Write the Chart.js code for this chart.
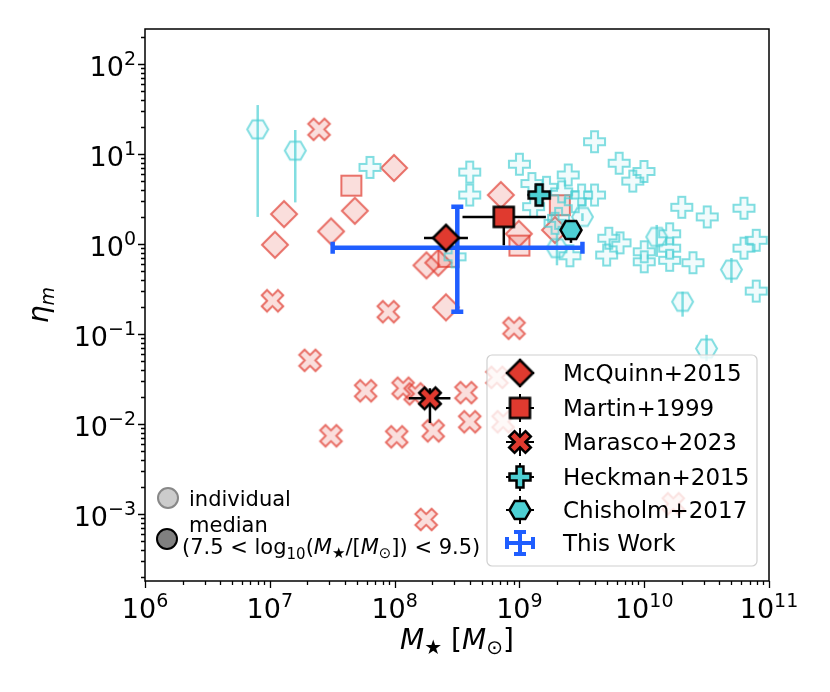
<!DOCTYPE html>
<html>
<head>
<meta charset="utf-8">
<script src="https://cdn.jsdelivr.net/npm/chart.js@4.4.1/dist/chart.umd.min.js"></script>
<style>
  html, body { margin: 0; padding: 0; background: #fff; }
  #wrap { width: 830px; height: 692px; }
</style>
</head>
<body>
<div id="wrap"><canvas id="chart" width="830" height="692"></canvas></div>
<script>
// ---- data (stellar mass in Msun, mass loading eta_m) ----
const mcquinnM   = [9.9e7, 4.8e7, 1.3e7, 3.1e7, 1.1e7, 2.58e8, 1.8e8, 2.24e8, 7.1e8, 9.9e8, 1.93e9];
const mcquinnEta = [7.0, 2.34, 2.15, 1.38, 0.98, 0.198, 0.58, 0.62, 3.5, 1.3, 1.43];

const martinM   = [4.5e7, 1.0e9, 2.11e9, 2.7e8];
const martinEta = [4.45, 0.96, 2.7, 0.72];

const marascoM   = [2.48e7, 1.05e7, 8.9e7, 9.06e8, 2.1e7, 5.86e7, 1.17e8, 1.46e8, 3.73e8,
                    4.0e8, 2.04e8, 1.04e8, 3.09e7, 1.79e8, 6.6e8, 7.4e8, 1.71e10];
const marascoEta = [18.8, 0.234, 0.177, 0.116, 0.051, 0.0234, 0.025, 0.0216, 0.0223,
                    0.0106, 0.0084, 0.0072, 0.0074, 0.00087, 0.033, 0.0106, 0.0013];

const heckmanM   = [6.35e7, 4.0e8, 4.0e8, 1.0e9, 1.26e9, 1.65e9, 2.46e9, 2.18e9, 3.15e9, 4.0e9,
                    2.8e9, 1.3e9, 2.06e9, 1.93e9, 4.0e9, 6.3e9, 9.96e9, 8.1e9, 2.0e10, 3.2e10,
                    6.3e10, 5.2e9, 6.4e9, 5.0e9, 1.0e10, 1.0e10, 1.6e10, 1.6e10, 1.6e10, 2.46e10,
                    6.3e10, 7.9e10, 7.9e10, 2.54e9, 3.05e8];
const heckmanEta = [7.1, 6.3, 3.5, 7.7, 4.7, 4.27, 5.85, 3.8, 3.5, 3.5,
                    2.95, 2.6, 1.93, 1.7, 13.7, 7.9, 6.4, 5.0, 2.56, 2.0,
                    2.5, 1.16, 1.03, 0.755, 0.82, 0.635, 1.3, 0.9, 0.66, 0.62,
                    0.9, 1.1, 0.30, 0.74, 0.72];

const chisholmM     = [8.0e6, 1.6e7, 3.2e9, 2.0e9, 1.26e10, 5.0e10, 2.03e10, 3.16e10];
const chisholmEta   = [18.8, 10.9, 2.0, 0.9, 1.2, 0.52, 0.228, 0.069];
const chisholmEtaLo = [2.0, 2.9, 1.8, 0.58, 0.72, 0.37, 0.156, 0.05];
const chisholmEtaHi = [35, 18.5, 2.2, 1.3, 1.63, 0.7, 0.295, 0.098];

// medians in 7.5 < log M < 9.5, one per study
const medianStudies = ['McQuinn+2015', 'Martin+1999', 'Marasco+2023', 'Heckman+2015', 'Chisholm+2017'];
const medianM      = [2.58e8, 7.5e8, 1.92e8, 1.44e9, 2.59e9];
const medianEta    = [1.17, 2.0, 0.0193, 3.5, 1.43];
const medianMLo    = [1.72e8, 3.5e8, 1.3e8, 1.16e9, null];
const medianMHi    = [3.87e8, 1.63e9, 2.8e8, 1.75e9, null];
const medianEtaLo  = [1.0, 0.97, 0.0103, 3.3, 1.03];
const medianEtaHi  = [1.35, 2.3, 0.025, 3.7, 1.82];

const thisWorkM     = [3.18e8];
const thisWorkEta   = [0.91];
const thisWorkMLo   = [3.19e7];
const thisWorkMHi   = [3.2e9];
const thisWorkEtaLo = [0.177];
const thisWorkEtaHi = [2.6];

const xTickExp = [6, 7, 8, 9, 10, 11];
const yTickExp = [-3, -2, -1, 0, 1, 2];

// ---- colours ----
const RED = 'rgb(224,58,47)';
const TEAL = 'rgb(77,208,212)';
const BLUE = 'rgb(31,94,255)';
const redFace = 'rgba(224,58,47,0.17)';
const redEdge = 'rgba(224,58,47,0.7)';
const tealFace = 'rgba(77,208,212,0.08)';
const tealEdge = 'rgba(77,208,212,0.7)';

// ---- marker images (matplotlib-like D, s, X, P, h) ----
function markerPath(ctx, shape, s) {
    ctx.beginPath();
    if (shape === 'diamond') {
        ctx.moveTo(0, -s); ctx.lineTo(s, 0); ctx.lineTo(0, s); ctx.lineTo(-s, 0);
    } else if (shape === 'square') {
        ctx.rect(-s, -s, 2 * s, 2 * s);
    } else if (shape === 'hex') {
        for (let k = 0; k < 6; k++) {
            const a = k * Math.PI / 3;
            const px = s * Math.cos(a), py = s * Math.sin(a);
            if (k === 0) ctx.moveTo(px, py); else ctx.lineTo(px, py);
        }
    } else {
        // plus (P) or rotated plus (X)
        const w = s * 0.33;
        let pts = [[-w, -s], [w, -s], [w, -w], [s, -w], [s, w], [w, w], [w, s], [-w, s], [-w, w], [-s, w], [-s, -w], [-w, -w]];
        if (shape === 'x') {
            const c = Math.SQRT1_2;
            pts = pts.map(p => [(p[0] - p[1]) * c, (p[0] + p[1]) * c]);
        }
        pts.forEach((p, i) => i === 0 ? ctx.moveTo(p[0], p[1]) : ctx.lineTo(p[0], p[1]));
    }
    ctx.closePath();
}

function makeMarker(shape, s, fill, stroke, lw) {
    const c = document.createElement('canvas');
    const n = Math.ceil(2 * s + lw * 2 + 4);
    c.width = n; c.height = n;
    const ctx = c.getContext('2d');
    ctx.translate(n / 2, n / 2);
    markerPath(ctx, shape, s);
    ctx.fillStyle = fill;
    ctx.fill();
    ctx.lineWidth = lw;
    ctx.strokeStyle = stroke;
    ctx.lineJoin = 'miter';
    ctx.stroke();
    return c;
}

const indDiamond = makeMarker('diamond', 13, redFace, redEdge, 2);
const indSquare  = makeMarker('square', 10, redFace, redEdge, 2);
const indX       = makeMarker('x', 11.5, redFace, redEdge, 2);
const indPlus    = makeMarker('plus', 10.5, tealFace, tealEdge, 2);
const indHex     = makeMarker('hex', 10.5, tealFace, tealEdge, 2);

const medDiamond = makeMarker('diamond', 13, RED, '#000', 2.5);
const medSquare  = makeMarker('square', 10, RED, '#000', 2.5);
const medX       = makeMarker('x', 11.5, RED, '#000', 2.5);
const medPlus    = makeMarker('plus', 10.5, TEAL, '#000', 2.5);
const medHex     = makeMarker('hex', 10.5, TEAL, '#000', 2.5);
const medStyles  = [medDiamond, medSquare, medX, medPlus, medHex];

function pts(xs, ys, extra) {
    return xs.map((x, i) => {
        const p = { x: x, y: ys[i] };
        if (extra) Object.keys(extra).forEach(k => { p[k] = extra[k][i]; });
        return p;
    });
}

// ---- error bars, drawn under each dataset's markers ----
const errorBars = {
    id: 'errorBars',
    beforeDatasetDraw(chart, args) {
        const ds = chart.data.datasets[args.index];
        if (!ds.err) return;
        const xs = chart.scales.x, ys = chart.scales.y, ctx = chart.ctx, a = chart.chartArea;
        ctx.save();
        ctx.beginPath();
        ctx.rect(a.left, a.top, a.right - a.left, a.bottom - a.top);
        ctx.clip();
        ctx.strokeStyle = ds.err.color;
        ctx.lineWidth = ds.err.width;
        ctx.lineCap = 'butt';
        const cap = ds.err.cap;
        ds.data.forEach(p => {
            const px = xs.getPixelForValue(p.x), py = ys.getPixelForValue(p.y);
            ctx.beginPath();
            if (p.xlo != null) {
                const x0 = xs.getPixelForValue(p.xlo), x1 = xs.getPixelForValue(p.xhi);
                ctx.moveTo(x0, py); ctx.lineTo(x1, py);
                if (cap) {
                    ctx.moveTo(x0, py - cap); ctx.lineTo(x0, py + cap);
                    ctx.moveTo(x1, py - cap); ctx.lineTo(x1, py + cap);
                }
            }
            if (p.ylo != null) {
                const y0 = ys.getPixelForValue(p.ylo), y1 = ys.getPixelForValue(p.yhi);
                ctx.moveTo(px, y0); ctx.lineTo(px, y1);
                if (cap) {
                    ctx.moveTo(px - cap, y0); ctx.lineTo(px + cap, y0);
                    ctx.moveTo(px - cap, y1); ctx.lineTo(px + cap, y1);
                }
            }
            ctx.stroke();
        });
        ctx.restore();
    }
};

// ---- text helpers ----
const FONT = '"DejaVu Sans", "Noto Sans", sans-serif';
function runWidth(ctx, segs) {
    let w = 0;
    segs.forEach(s => {
        ctx.font = (s.it ? 'italic ' : '') + s.size + 'px ' + FONT;
        w += ctx.measureText(s.t).width;
    });
    return w;
}
function drawRun(ctx, segs, x, y, align) {
    const w = runWidth(ctx, segs);
    let cx = align === 'center' ? x - w / 2 : align === 'right' ? x - w : x;
    ctx.textAlign = 'left';
    ctx.textBaseline = 'alphabetic';
    segs.forEach(s => {
        ctx.font = (s.it ? 'italic ' : '') + s.size + 'px ' + FONT;
        ctx.fillText(s.t, cx, y + (s.dy || 0));
        cx += ctx.measureText(s.t).width;
    });
}
function pow10(e, size) {
    return [{ t: '10', size: size }, { t: String(e).replace('-', '\u2212'), size: Math.round(size * 0.7), dy: -size * 0.42 }];
}

// ---- frame, ticks, tick labels, axis titles, legends ----
const decor = {
    id: 'decor',
    afterDraw(chart) {
        const ctx = chart.ctx, a = chart.chartArea, xs = chart.scales.x, ys = chart.scales.y;
        ctx.save();
        ctx.fillStyle = '#000';
        ctx.strokeStyle = '#000';

        // ticks
        ctx.lineWidth = 1.3;
        ctx.beginPath();
        for (let e = 6; e <= 10; e++) {
            for (let m = 1; m <= 9; m++) {
                const px = Math.round(xs.getPixelForValue(m * Math.pow(10, e))) + 0.5;
                const len = m === 1 ? 7 : 4;
                ctx.moveTo(px, a.bottom); ctx.lineTo(px, a.bottom + len);
            }
        }
        const pr = Math.round(xs.getPixelForValue(1e11)) + 0.5;
        ctx.moveTo(pr, a.bottom); ctx.lineTo(pr, a.bottom + 7);
        for (let e = -4; e <= 2; e++) {
            for (let m = 1; m <= 9; m++) {
                const v = m * Math.pow(10, e);
                if (v < ys.min || v > ys.max) continue;
                const py = Math.round(ys.getPixelForValue(v)) + 0.5;
                const len = m === 1 ? 7 : 4;
                ctx.moveTo(a.left, py); ctx.lineTo(a.left - len, py);
            }
        }
        ctx.stroke();

        // frame
        ctx.lineWidth = 1.5;
        ctx.strokeRect(a.left, a.top, a.right - a.left, a.bottom - a.top);

        // tick labels
        const TS = 27;
        xTickExp.forEach(e => {
            drawRun(ctx, pow10(e, TS), xs.getPixelForValue(Math.pow(10, e)), a.bottom + 37, 'center');
        });
        yTickExp.forEach(e => {
            drawRun(ctx, pow10(e, TS), a.left - 9, ys.getPixelForValue(Math.pow(10, e)) + 12, 'right');
        });

        // axis titles
        drawRun(ctx, [
            { t: 'M', size: 28, it: true }, { t: '\u2605', size: 20, dy: 5 },
            { t: ' [', size: 28 }, { t: 'M', size: 28, it: true }, { t: '\u2299', size: 20, dy: 5 }, { t: ']', size: 28 }
        ], (a.left + a.right) / 2, 649, 'center');
        ctx.save();
        ctx.translate(48, (a.top + a.bottom) / 2);
        ctx.rotate(-Math.PI / 2);
        drawRun(ctx, [{ t: '\u03b7', size: 28, it: true }, { t: 'm', size: 19, it: true, dy: 6 }], 0, 0, 'center');
        ctx.restore();

        // main legend
        const lx = 487, ly = 355, lw = 270, lh = 211;
        ctx.beginPath();
        ctx.roundRect(lx, ly, lw, lh, 5);
        ctx.fillStyle = 'rgba(255,255,255,0.8)';
        ctx.fill();
        ctx.lineWidth = 1.2;
        ctx.strokeStyle = '#d0d0d0';
        ctx.stroke();
        const rows = [373, 408, 442, 477, 510, 543];
        const mx = 520;
        ctx.fillStyle = '#000';
        medianStudies.forEach((name, i) => {
            const y = rows[i];
            ctx.strokeStyle = '#000';
            ctx.lineWidth = 2;
            ctx.beginPath();
            ctx.moveTo(mx - 14, y); ctx.lineTo(mx + 14, y);
            ctx.moveTo(mx, y - 14); ctx.lineTo(mx, y + 14);
            ctx.stroke();
            const img = medStyles[i];
            ctx.drawImage(img, mx - img.width / 2, y - img.height / 2);
        });
        const ty = rows[5];
        ctx.strokeStyle = BLUE;
        ctx.lineWidth = 4;
        ctx.beginPath();
        ctx.moveTo(mx - 13, ty); ctx.lineTo(mx + 13, ty);
        ctx.moveTo(mx, ty - 11); ctx.lineTo(mx, ty + 11);
        ctx.moveTo(mx - 13, ty - 6); ctx.lineTo(mx - 13, ty + 6);
        ctx.moveTo(mx + 13, ty - 6); ctx.lineTo(mx + 13, ty + 6);
        ctx.moveTo(mx - 6, ty - 11); ctx.lineTo(mx + 6, ty - 11);
        ctx.moveTo(mx - 6, ty + 11); ctx.lineTo(mx + 6, ty + 11);
        ctx.stroke();
        ctx.fillStyle = '#000';
        medianStudies.concat(['This Work']).forEach((name, i) => {
            drawRun(ctx, [{ t: name, size: 23 }], 563, rows[i] + 8, 'left');
        });

        // individual / median key
        ctx.lineWidth = 2;
        ctx.beginPath();
        ctx.arc(168, 498, 10, 0, Math.PI * 2);
        ctx.fillStyle = '#cccccc'; ctx.fill();
        ctx.strokeStyle = '#888888'; ctx.stroke();
        ctx.beginPath();
        ctx.arc(167, 539, 10, 0, Math.PI * 2);
        ctx.fillStyle = '#808080'; ctx.fill();
        ctx.strokeStyle = '#000'; ctx.stroke();
        ctx.fillStyle = '#000';
        const KS = 21;
        drawRun(ctx, [{ t: 'individual', size: KS }], 189, 506, 'left');
        drawRun(ctx, [{ t: 'median', size: KS }], 189, 532, 'left');
        drawRun(ctx, [
            { t: '(7.5 < log', size: KS }, { t: '10', size: 15, dy: 5 }, { t: '(', size: KS },
            { t: 'M', size: KS, it: true }, { t: '\u2605', size: 15, dy: 4 }, { t: '/[', size: KS },
            { t: 'M', size: KS, it: true }, { t: '\u2299', size: 15, dy: 4 }, { t: ']) < 9.5)', size: KS }
        ], 182, 554, 'left');
        ctx.restore();
    }
};

new Chart(document.getElementById('chart'), {
    type: 'scatter',
    data: {
        datasets: [
            {
                label: 'medians',
                data: pts(medianM, medianEta, { xlo: medianMLo, xhi: medianMHi, ylo: medianEtaLo, yhi: medianEtaHi }),
                pointStyle: medStyles,
                err: { color: '#000', width: 2.5, cap: 0 },
                order: 1
            },
            {
                label: 'This Work',
                data: pts(thisWorkM, thisWorkEta, { xlo: thisWorkMLo, xhi: thisWorkMHi, ylo: thisWorkEtaLo, yhi: thisWorkEtaHi }),
                pointRadius: 0,
                err: { color: BLUE, width: 4.5, cap: 6 },
                order: 2
            },
            {
                label: 'Chisholm+2017',
                data: pts(chisholmM, chisholmEta, { ylo: chisholmEtaLo, yhi: chisholmEtaHi }),
                pointStyle: indHex,
                err: { color: 'rgba(77,208,212,0.7)', width: 2.5, cap: 0 },
                order: 3
            },
            { label: 'Heckman+2015', data: pts(heckmanM, heckmanEta), pointStyle: indPlus, order: 4 },
            { label: 'Marasco+2023', data: pts(marascoM, marascoEta), pointStyle: indX, order: 5 },
            { label: 'Martin+1999', data: pts(martinM, martinEta), pointStyle: indSquare, order: 6 },
            { label: 'McQuinn+2015', data: pts(mcquinnM, mcquinnEta), pointStyle: indDiamond, order: 7 }
        ]
    },
    options: {
        responsive: false,
        animation: false,
        layout: { padding: { top: 29, right: 61, left: 0, bottom: 0 } },
        plugins: { legend: { display: false }, tooltip: { enabled: false } },
        scales: {
            x: {
                type: 'logarithmic',
                min: 1e6,
                max: 1e11,
                grid: { display: false },
                border: { display: false },
                ticks: { display: false },
                afterFit(scale) { scale.height = 111; }
            },
            y: {
                type: 'logarithmic',
                min: Math.pow(10, -3.744),
                max: Math.pow(10, 2.389),
                grid: { display: false },
                border: { display: false },
                ticks: { display: false },
                afterFit(scale) { scale.width = 145; }
            }
        }
    },
    plugins: [errorBars, decor]
});
</script>
</body>
</html>
